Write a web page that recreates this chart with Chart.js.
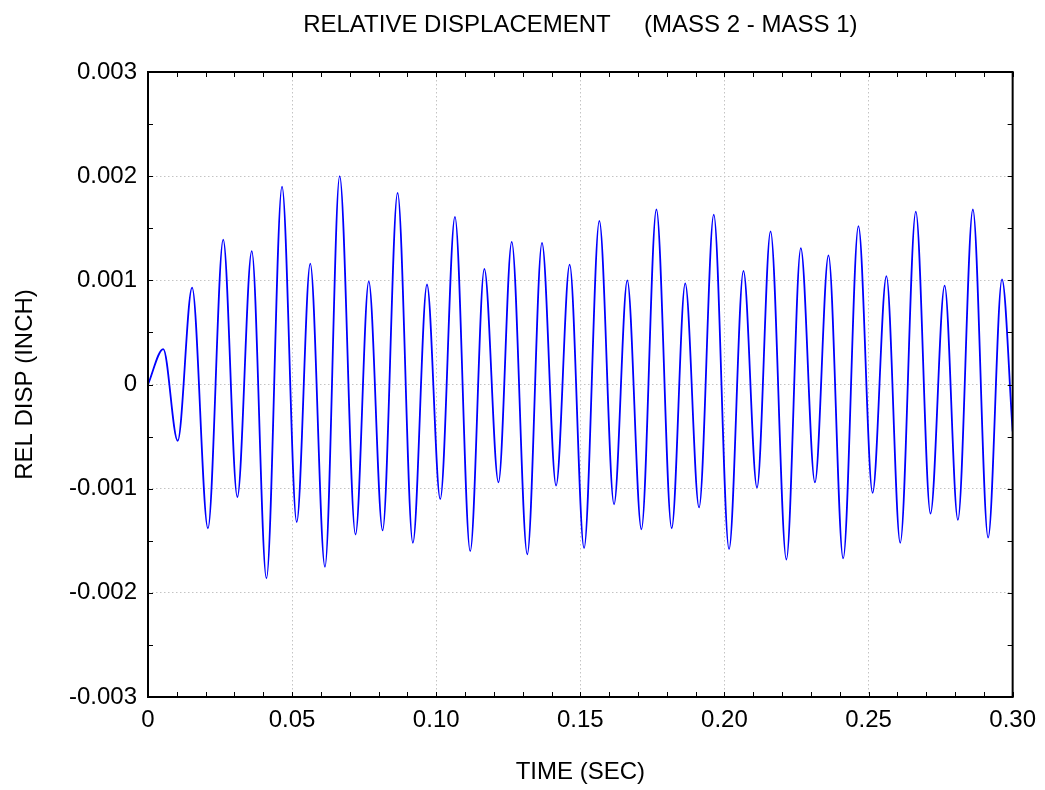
<!DOCTYPE html>
<html lang="en">
  <head>
    <meta charset="utf-8" />
    <title>Relative Displacement</title>
    <style>
      html, body { margin: 0; padding: 0; background: #fff; }
      #wrap { width: 1045px; height: 790px; }
    </style>
  </head>
  <body>
    <div id="wrap">
      <canvas id="canvas"></canvas>
    </div>

    <script src="https://cdn.jsdelivr.net/npm/chart.js"></script>

    <script>
      // peaks / troughs (sec, inch)
      const times = [
        0, 0.0053, 0.0103, 0.0153, 0.0208, 0.0261, 0.031, 0.036, 0.0411, 0.0465,
        0.0516, 0.0563, 0.0614, 0.0665, 0.072, 0.0766, 0.0814, 0.0866, 0.0919, 0.0968,
        0.1014, 0.1065, 0.1118, 0.1167, 0.1216, 0.1262, 0.1316, 0.1367, 0.1416, 0.1463,
        0.1513, 0.1566, 0.1617, 0.1663, 0.1712, 0.1764, 0.1817, 0.1864, 0.1912, 0.1963,
        0.2016, 0.2066, 0.2113, 0.216, 0.2215, 0.2265, 0.2314, 0.2361, 0.2412, 0.2465,
        0.2514, 0.2562, 0.261, 0.2664, 0.2715, 0.2764, 0.281, 0.2862, 0.2915, 0.2963,
        0.3,
      ];
      const relDisp = [
        0, 0.00034, -0.00054, 0.00093, -0.00138, 0.00139, -0.00108, 0.00128, -0.00186, 0.0019,
        -0.00132, 0.00116, -0.00175, 0.002, -0.00144, 0.00099, -0.0014, 0.00184, -0.00152, 0.00096,
        -0.0011, 0.00161, -0.0016, 0.00111, -0.00094, 0.00137, -0.00163, 0.00136, -0.00097, 0.00115,
        -0.00157, 0.00157, -0.00115, 0.001, -0.00139, 0.00168, -0.00138, 0.00097, -0.00118, 0.00163,
        -0.00158, 0.00109, -0.00099, 0.00147, -0.00168, 0.00131, -0.00094, 0.00124, -0.00167, 0.00152,
        -0.00104, 0.00104, -0.00152, 0.00166, -0.00124, 0.00095, -0.0013, 0.00168, -0.00147, 0.00101,
        -0.00045,
      ];
      const xTickLabels = ["0", "0.05", "0.10", "0.15", "0.20", "0.25", "0.30"];
      const yTickLabels = ["-0.003", "-0.002", "-0.001", "0", "0.001", "0.002", "0.003"];

      const FONT = "'Liberation Sans', Arial, sans-serif";
      const SIZE = 24;
      const GRID = "#c4c4c4";

      // frame + inward tick marks on all four sides
      const frame = {
        id: "frame",
        afterDraw(chart) {
          const { ctx, chartArea: a, scales } = chart;
          const x = scales.x, y = scales.y;
          ctx.save();
          ctx.strokeStyle = "#000";
          ctx.lineWidth = 1;
          ctx.beginPath();
          x.ticks.forEach((t) => {
            const px = Math.round(x.getPixelForValue(t.value)) + 0.5;
            ctx.moveTo(px, a.bottom); ctx.lineTo(px, a.bottom - 5);
            ctx.moveTo(px, a.top); ctx.lineTo(px, a.top + 5);
          });
          y.ticks.forEach((t) => {
            const py = Math.round(y.getPixelForValue(t.value)) + 0.5;
            ctx.moveTo(a.left, py); ctx.lineTo(a.left + 5, py);
            ctx.moveTo(a.right, py); ctx.lineTo(a.right - 5, py);
          });
          ctx.stroke();
          ctx.lineWidth = 2;
          ctx.strokeRect(a.left, a.top, a.right - a.left, a.bottom - a.top);
          ctx.restore();
        },
      };

      new Chart(document.getElementById("canvas"), {
        type: "line",
        data: {
          datasets: [
            {
              label: "REL DISP",
              data: times.map((t, i) => ({ x: t, y: relDisp[i] })),
              borderColor: "#0000ff",
              borderWidth: 1.8,
              pointRadius: 0,
              fill: false,
              cubicInterpolationMode: "monotone",
            },
          ],
        },
        options: {
          responsive: true,
          maintainAspectRatio: false,
          animation: false,
          layout: { padding: { left: 0, right: 30, top: 0, bottom: 0 } },
          plugins: {
            legend: { display: false },
            tooltip: { enabled: false },
            title: {
              display: true,
              text: "RELATIVE DISPLACEMENT     (MASS 2 - MASS 1)",
              color: "#000",
              fullSize: false,
              font: { family: FONT, size: SIZE, weight: "normal", lineHeight: 1.2 },
              padding: { top: 11, bottom: 32.2 },
            },
          },
          scales: {
            x: {
              type: "linear",
              min: 0,
              max: 0.3,
              afterFit: (s) => { s.height = 93; },
              ticks: {
                stepSize: 0.01,
                autoSkip: false,
                maxRotation: 0,
                padding: 9,
                color: "#000",
                font: { family: FONT, size: SIZE },
                callback: (v, i) => (i % 5 === 0 ? xTickLabels[i / 5] : ""),
              },
              grid: {
                drawTicks: false,
                color: (c) => (c.index % 5 === 0 ? GRID : "rgba(0,0,0,0)"),
                lineWidth: 1,
              },
              border: { display: false, dash: [1.5, 2.5] },
              title: {
                display: true,
                text: "TIME (SEC)",
                color: "#000",
                font: { family: FONT, size: SIZE, lineHeight: 1.2 },
                padding: { top: 0, bottom: 3 },
              },
            },
            y: {
              type: "linear",
              min: -0.003,
              max: 0.003,
              afterFit: (s) => { s.width = 148; },
              ticks: {
                stepSize: 0.0005,
                autoSkip: false,
                padding: 11,
                color: "#000",
                font: { family: FONT, size: SIZE },
                callback: (v, i) => (i % 2 === 0 ? yTickLabels[i / 2] : ""),
              },
              grid: {
                drawTicks: false,
                color: (c) => (c.index % 2 === 0 ? GRID : "rgba(0,0,0,0)"),
                lineWidth: 1,
              },
              border: { display: false, dash: [1.5, 2.5] },
              title: {
                display: true,
                text: "REL DISP (INCH)",
                color: "#000",
                font: { family: FONT, size: SIZE, lineHeight: 1.2 },
                padding: { top: 11, bottom: 0 },
              },
            },
          },
        },
        plugins: [frame],
      });
    </script>
  </body>
</html>
